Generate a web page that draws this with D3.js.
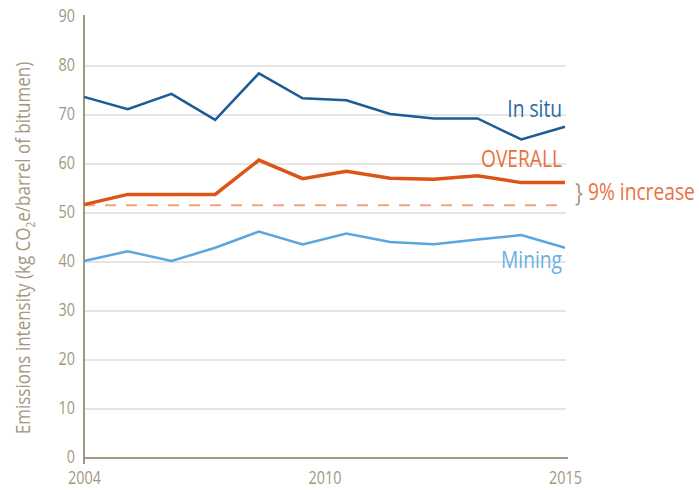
<!DOCTYPE html>
<html>
<head>
<meta charset="utf-8">
<script src="https://cdn.jsdelivr.net/npm/d3@7"></script>
<style>
  body { margin: 0; background: #fff; }
  svg text { font-family: "Open Sans", sans-serif; }
</style>
</head>
<body>
<div id="chartArea"></div>
<script>
// Data
let years = [2004, 2005, 2006, 2007, 2008, 2009, 2010, 2011, 2012, 2013, 2014, 2015];
let inSitu = [73.7, 71.2, 74.3, 69.0, 78.5, 73.4, 73.0, 70.2, 69.3, 69.3, 65.0, 67.6];
let overall = [51.7, 53.8, 53.8, 53.8, 60.8, 57.0, 58.5, 57.1, 56.9, 57.6, 56.2, 56.2];
let mining = [40.2, 42.2, 40.2, 42.9, 46.2, 43.6, 45.8, 44.1, 43.6, 44.6, 45.5, 42.9];
let baseline2004 = 51.6;
let yTicks = [0, 10, 20, 30, 40, 50, 60, 70, 80, 90];
let xTickYears = [2004, 2009.5, 2015];
let xTickLabels = ['2004', '2010', '2015'];

let width = 699, height = 490;
let tan = '#a3987e';
let squeeze = 0.8; // the original font is a condensed face

let svg = d3.select('#chartArea')
    .append('svg')
        .attr('width', width)
        .attr('height', height);

let xScale = d3.scaleLinear().domain([2004, 2015]).range([84, 565]);
let yScale = d3.scaleLinear().domain([0, 90]).range([458, 17]);

// narrow text drawn at (x, y)
function label(x, y, txt, color, size, anchor) {
    return svg.append('text')
        .attr('transform', 'translate(' + x + ',' + y + ') scale(' + squeeze + ',1)')
        .attr('text-anchor', anchor || 'start')
        .attr('fill', color)
        .attr('font-size', size)
        .text(txt);
}

// gridlines
svg.append('g')
    .selectAll('line')
    .data(yTicks.filter(d => d > 0 && d < 90))
    .join('line')
        .attr('x1', xScale(2004))
        .attr('x2', xScale(2015) + 1)
        .attr('y1', d => yScale(d))
        .attr('y2', d => yScale(d))
        .attr('stroke', '#dcdcdc')
        .attr('stroke-width', 1.5);

// y axis labels
let yAxis = svg.append('g')
    .attr('transform', 'translate(' + xScale(2004) + ',0)')
    .call(d3.axisLeft(yScale).tickValues(yTicks).tickSize(0).tickPadding(0));
yAxis.select('.domain').remove();
yAxis.selectAll('text')
    .attr('x', null)
    .attr('transform', 'translate(-9,-1) scale(' + squeeze + ',1)')
    .attr('fill', tan)
    .attr('font-size', 18);

// x axis labels
let xAxis = svg.append('g')
    .attr('transform', 'translate(0,' + yScale(0) + ')')
    .call(d3.axisBottom(xScale).tickValues(xTickYears)
        .tickFormat((d, i) => xTickLabels[i]).tickSize(0).tickPadding(0));
xAxis.select('.domain').remove();
xAxis.selectAll('text')
    .attr('y', null)
    .attr('dy', null)
    .attr('transform', 'translate(0,26) scale(' + squeeze + ',1)')
    .attr('fill', tan)
    .attr('font-size', 18);

// axis lines
svg.append('line')
    .attr('x1', xScale(2004)).attr('x2', xScale(2004))
    .attr('y1', yScale(90) - 2).attr('y2', yScale(0) + 6)
    .attr('stroke', tan).attr('stroke-width', 2);
svg.append('line')
    .attr('x1', xScale(2004)).attr('x2', xScale(2015) + 3)
    .attr('y1', yScale(0)).attr('y2', yScale(0))
    .attr('stroke', tan).attr('stroke-width', 2);

// y axis title
svg.append('text')
    .attr('transform', 'translate(30,' + 248 + ') rotate(-90) scale(0.85,1)')
    .attr('text-anchor', 'middle')
    .attr('fill', tan)
    .attr('font-size', 20)
    .text('Emissions intensity (kg CO')
    .call(t => t.append('tspan').attr('font-size', 12).attr('dy', 5).text('2'))
    .call(t => t.append('tspan').attr('dy', -5).text('e/barrel of bitumen)'));

// dashed baseline
svg.append('line')
    .attr('x1', xScale(2004)).attr('x2', xScale(2015))
    .attr('y1', yScale(baseline2004)).attr('y2', yScale(baseline2004))
    .attr('stroke', '#f0a57e')
    .attr('stroke-width', 2)
    .attr('stroke-dasharray', '11,10');

let line = d3.line()
    .x((d, i) => xScale(years[i]))
    .y(d => yScale(d));

svg.append('path')
    .attr('d', line(mining))
    .attr('fill', 'none')
    .attr('stroke', '#5aa6df')
    .attr('stroke-width', 2.5);

svg.append('path')
    .attr('d', line(inSitu))
    .attr('fill', 'none')
    .attr('stroke', '#1d5b97')
    .attr('stroke-width', 2.5);

svg.append('path')
    .attr('d', line(overall))
    .attr('fill', 'none')
    .attr('stroke', '#dd5417')
    .attr('stroke-width', 3.5);

// series labels
label(562, 117, 'In situ', '#2b69a6', 24, 'end');
label(562, 167, 'OVERALL', '#e8723f', 24, 'end');
label(562, 268, 'Mining', '#6cb0e3', 24, 'end');
label(575, 201, '}', tan, 26);
label(588, 200, '9% increase', '#e8723f', 24);
</script>
</body>
</html>
